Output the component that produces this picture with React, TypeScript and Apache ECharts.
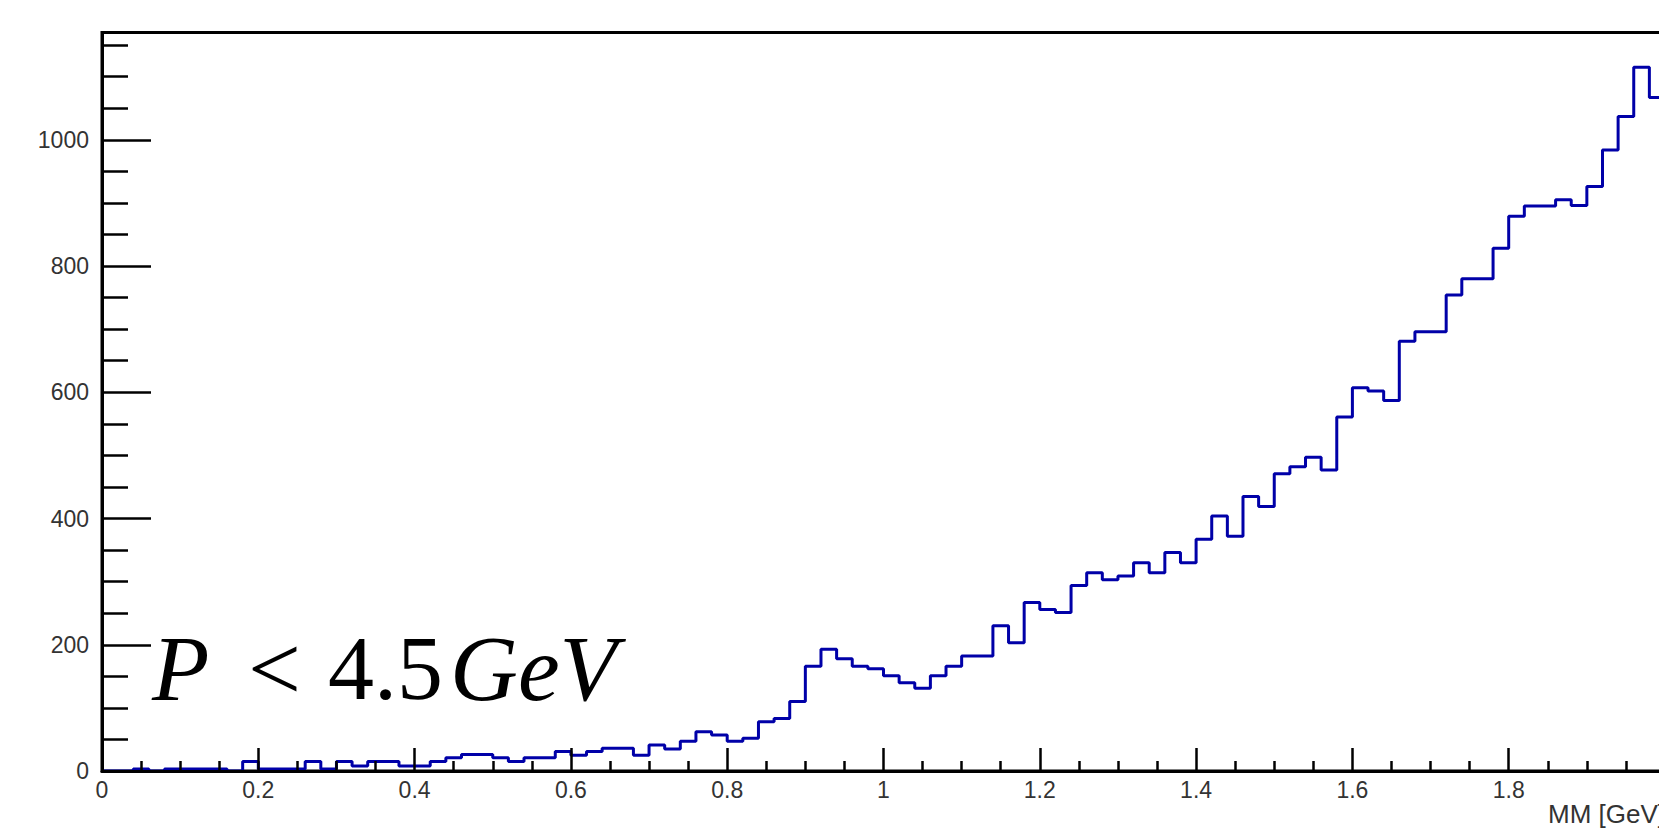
import { useEffect, useRef } from "react";
import * as echarts from "echarts";

// Histogram binning (x axis: MM [GeV])
const X_MIN = 0;
const X_MAX = 2;
const BIN_WIDTH = 0.02;
const Y_MAX = 1170;

// Bin contents, one per 0.02 GeV bin from 0 to 2
const counts: number[] = [
  0, 0, 3, 0, 3, 3, 3, 3, 0, 15,
  3, 3, 3, 15, 3, 15, 8, 15, 15, 8,
  8, 15, 21, 26, 26, 21, 15, 21, 21, 31,
  25, 31, 36, 36, 25, 41, 35, 47, 62, 57,
  47, 52, 78, 83, 110, 166, 193, 178, 166, 162,
  151, 140, 131, 151, 166, 182, 182, 230, 203, 267,
  256, 251, 294, 314, 303, 309, 330, 314, 346, 330,
  367, 404, 372, 435, 419, 471, 482, 497, 477, 561,
  607, 602, 587, 681, 696, 696, 754, 780, 780, 828,
  879, 895, 895, 905, 896, 926, 984, 1037, 1115, 1067,
];

const yMajorTicks = [0, 200, 400, 600, 800, 1000];
const yMinorTicks = [50, 100, 150, 250, 300, 350, 450, 500, 550, 650, 700, 750, 850, 900, 950, 1050, 1100, 1150];

const xTitle = "MM [GeV]";
const labelParts = { p: "P", lt: "<", num: "4.5", unit: "GeV" };

export default function App() {
  const ref = useRef<HTMLDivElement>(null);

  useEffect(() => {
    if (!ref.current) return;
    const chart = echarts.init(ref.current, undefined, { renderer: "svg" });

    const stepData: [number, number][] = counts.map((c, i) => [X_MIN + i * BIN_WIDTH, c]);
    stepData.push([X_MAX, counts[counts.length - 1]]);

    const axisColor = "#000";
    const labelStyle = {
      color: "#333",
      fontFamily: "Liberation Sans",
      fontSize: 23,
    };
    const fmt = (v: number) => String(Math.round(v * 1000) / 1000);

    const textStyle = (text: string, font: string) => ({
      text,
      font,
      fill: "#000",
      align: "left",
      textAlign: "left",
      verticalAlign: "middle",
      textVerticalAlign: "middle",
    });

    const option: any = {
      animation: false,
      backgroundColor: "#fff",
      grid: {
        left: 102,
        top: 32.5,
        width: 1563,
        height: 738.5,
        show: true,
        borderColor: "#000",
        borderWidth: 3,
        backgroundColor: "transparent",
      },
      xAxis: {
        type: "value",
        min: X_MIN,
        max: X_MAX,
        interval: 0.2,
        z: 5,
        axisLine: { show: true, onZero: false, lineStyle: { color: axisColor, width: 3 } },
        axisTick: { show: true, inside: true, length: 23, lineStyle: { color: axisColor, width: 2.5 } },
        minorTick: { show: true, splitNumber: 4, length: 10, lineStyle: { color: axisColor, width: 2.5 } },
        axisLabel: { ...labelStyle, margin: 7, showMaxLabel: true, formatter: fmt },
        splitLine: { show: false },
        minorSplitLine: { show: false },
      },
      yAxis: [
        {
          type: "value",
          min: 0,
          max: Y_MAX,
          position: "left",
          z: 5,
          axisLine: { show: true, lineStyle: { color: axisColor, width: 3 } },
          axisTick: {
            show: true,
            inside: true,
            length: 49,
            customValues: yMajorTicks,
            lineStyle: { color: axisColor, width: 2.5 },
          },
          axisLabel: { ...labelStyle, margin: 13, customValues: yMajorTicks, formatter: fmt },
          splitLine: { show: false },
        },
        {
          type: "value",
          min: 0,
          max: Y_MAX,
          position: "left",
          z: 5,
          axisLine: { show: false },
          axisTick: {
            show: true,
            inside: true,
            length: 26,
            customValues: yMinorTicks,
            lineStyle: { color: axisColor, width: 2.5 },
          },
          axisLabel: { show: false },
          splitLine: { show: false },
        },
      ],
      series: [
        {
          type: "line",
          step: "end",
          yAxisIndex: 0,
          data: stepData,
          showSymbol: false,
          symbol: "none",
          z: 2,
          lineStyle: { color: "#0000a8", width: 3 },
        },
      ],
      graphic: [
        {
          type: "text",
          x: 1665,
          y: 814,
          style: {
            text: xTitle,
            font: '26px "Liberation Sans"',
            fill: "#333",
            align: "right",
            textAlign: "right",
            verticalAlign: "middle",
            textVerticalAlign: "middle",
          },
        },
        { type: "text", x: 152, y: 668, style: textStyle(labelParts.p, 'italic 94px "Liberation Serif"') },
        { type: "text", x: 248, y: 668, style: textStyle(labelParts.lt, '94px "Liberation Serif"') },
        { type: "text", x: 328, y: 668, style: textStyle(labelParts.num, '92px "Liberation Serif"') },
        { type: "text", x: 450, y: 668, style: textStyle(labelParts.unit, 'italic 94px "Liberation Serif"') },
      ],
    };

    chart.setOption(option);
    return () => chart.dispose();
  }, []);

  return (
    <div
      style={{
        position: "fixed",
        left: 0,
        top: 0,
        width: 1659,
        height: 830,
        overflow: "hidden",
        background: "#fff",
      }}
    >
      <div ref={ref} style={{ width: 1720, height: 830 }} />
    </div>
  );
}
